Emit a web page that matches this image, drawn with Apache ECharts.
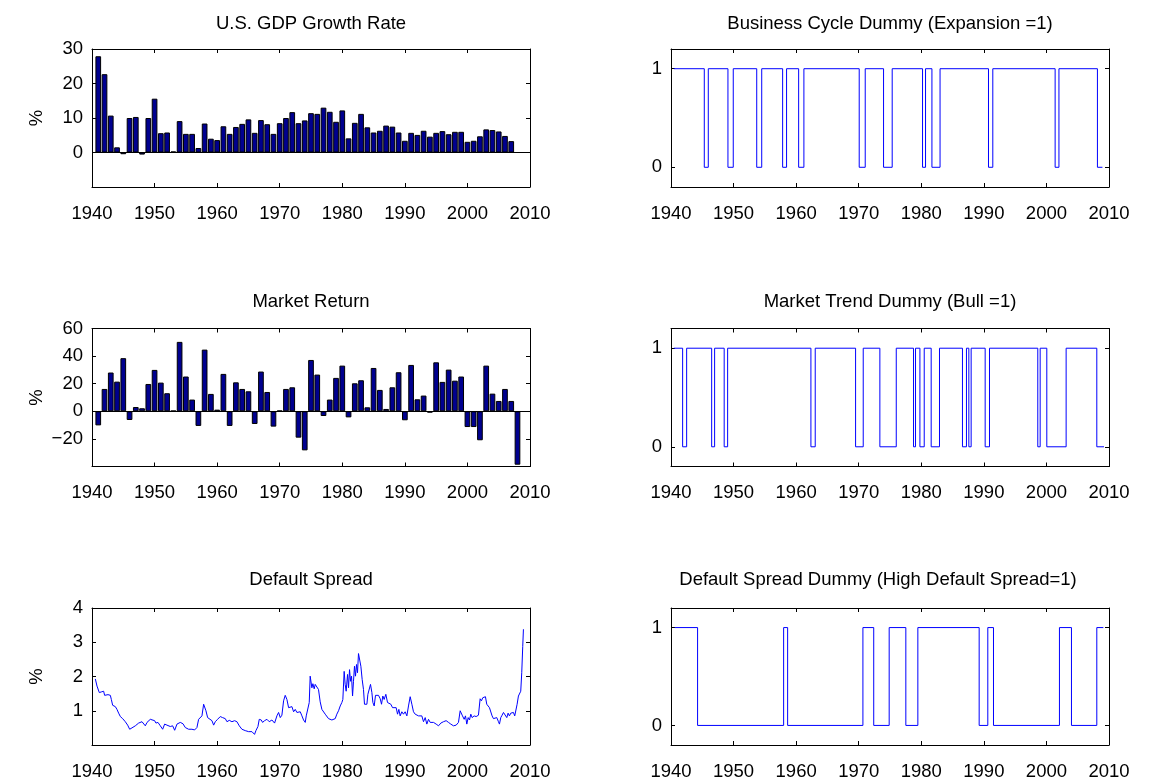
<!DOCTYPE html>
<html><head><meta charset="utf-8">
<script src="https://cdn.jsdelivr.net/npm/echarts@6/dist/echarts.min.js"></script>
<style>html,body{margin:0;padding:0;background:#fff}#c{width:1167px;height:781px}</style>
</head><body><div id="c"></div>
<script>
// ---------- DATA ----------
const gdpYears = [1941,1942,1943,1944,1945,1946,1947,1948,1949,1950,1951,1952,1953,1954,1955,1956,1957,1958,1959,1960,
1961,1962,1963,1964,1965,1966,1967,1968,1969,1970,1971,1972,1973,1974,1975,1976,1977,1978,1979,1980,
1981,1982,1983,1984,1985,1986,1987,1988,1989,1990,1991,1992,1993,1994,1995,1996,1997,1998,1999,2000,
2001,2002,2003,2004,2005,2006,2007];
const gdpValues = [27.9,22.7,10.7,1.5,-0.5,10.0,10.3,-0.6,10.0,15.6,5.6,5.8,0.3,9.1,5.4,5.4,1.3,8.4,4.0,3.6,
7.6,5.4,7.4,8.3,9.6,5.7,9.4,8.2,5.4,8.5,10.0,11.7,8.5,9.3,11.4,11.2,13.0,11.8,8.9,12.2,
4.1,8.6,11.2,7.3,5.8,6.3,7.8,7.5,5.8,3.4,5.7,5.1,6.3,4.6,5.7,6.2,5.3,6.0,6.0,3.1,
3.4,4.7,6.7,6.5,6.1,4.8,3.3];

const mktYears = [1941,1942,1943,1944,1945,1946,1947,1948,1949,1950,1951,1952,1953,1954,1955,1956,1957,1958,1959,1960,
1961,1962,1963,1964,1965,1966,1967,1968,1969,1970,1971,1972,1973,1974,1975,1976,1977,1978,1979,1980,
1981,1982,1983,1984,1985,1986,1987,1988,1989,1990,1991,1992,1993,1994,1995,1996,1997,1998,1999,2000,
2001,2002,2003,2004,2005,2006,2007,2008];
const mktValues = [-10.2,16.2,28.1,21.5,38.5,-6.3,3.1,2.2,19.8,30.0,20.8,13.1,0.4,50.3,25.2,8.5,-10.6,44.7,12.6,1.2,
27.1,-10.6,21.0,16.2,14.5,-9.2,28.8,14.0,-11.1,0.5,16.2,17.4,-19.1,-28.3,37.2,26.6,-3.4,8.5,24.2,33.1,
-4.4,20.3,22.5,2.9,31.4,15.5,1.7,17.4,28.3,-6.5,33.6,8.7,11.4,-1.0,35.5,21.3,30.2,22.2,25.2,-11.4,
-11.4,-21.0,33.1,12.8,7.5,16.2,7.5,-38.7];

const spreadDates = [1940.53,1940.80,1941.17,1941.49,1941.86,1942.02,1942.24,1942.56,1942.93,1943.09,1943.30,1943.73,1943.99,
1944.26,1944.53,1944.90,1945.32,1945.70,1946.02,1946.39,1946.92,1947.45,1947.99,1948.25,1948.52,1948.79,1949.32,1949.58,
1950.01,1950.22,1950.54,1950.92,1951.29,1951.61,1951.98,1952.51,1952.89,1953.21,1953.58,1954.11,1954.54,1954.91,1955.44,
1955.97,1956.40,1956.77,1957.04,1957.31,1957.57,1957.84,1958.00,1958.21,1958.48,1958.74,1959.17,1959.44,1959.70,1960.07,
1960.50,1960.87,1961.30,1961.57,1961.94,1962.36,1962.79,1963.16,1963.54,1963.96,1964.49,1965.03,1965.56,1965.98,1966.20,
1966.52,1966.73,1967.05,1967.26,1967.58,1967.96,1968.33,1968.75,1969.18,1969.55,1969.82,1970.09,1970.35,1970.62,1970.88,
1971.15,1971.42,1971.68,1971.95,1972.22,1972.48,1972.75,1973.01,1973.28,1973.55,1973.81,1974.08,1974.24,1974.50,1974.72,
1974.87,1975.14,1975.30,1975.51,1975.67,1975.94,1976.20,1976.47,1976.74,1977.00,1977.27,1977.54,1977.80,1978.07,1978.34,
1978.60,1978.87,1979.13,1979.40,1979.67,1979.93,1980.09,1980.30,1980.46,1980.62,1980.84,1981.00,1981.16,1981.32,1981.48,
1981.64,1981.79,1981.95,1982.11,1982.27,1982.43,1982.59,1982.75,1982.97,1983.18,1983.39,1983.55,1983.71,1983.93,1984.09,
1984.30,1984.51,1984.73,1984.89,1985.10,1985.31,1985.52,1985.79,1986.06,1986.27,1986.48,1986.69,1986.96,1987.23,1987.49,
1987.76,1988.03,1988.29,1988.61,1988.83,1989.04,1989.25,1989.52,1989.78,1990.05,1990.32,1990.58,1990.85,1991.12,1991.38,
1991.65,1991.91,1992.18,1992.45,1992.71,1992.98,1993.25,1993.51,1993.78,1994.05,1994.31,1994.58,1995.00,1995.38,1995.75,
1996.17,1996.60,1996.97,1997.34,1997.77,1998.20,1998.57,1998.84,1999.00,1999.21,1999.48,1999.69,1999.90,2000.12,2000.33,
2000.54,2000.75,2001.07,2001.39,2001.76,2002.03,2002.24,2002.45,2002.67,2002.88,2003.09,2003.30,2003.52,2003.73,2003.94,
2004.16,2004.42,2004.69,2004.96,2005.12,2005.33,2005.54,2005.76,2006.02,2006.29,2006.50,2006.71,2006.93,2007.14,2007.35,
2007.56,2007.78,2007.94,2008.15,2008.31,2008.52,2008.68,2008.84,2008.95];
const spreadValues = [1.93,1.72,1.53,1.55,1.57,1.45,1.41,1.47,1.45,1.33,1.16,1.12,1.04,
0.93,0.83,0.77,0.68,0.58,0.46,0.50,0.56,0.64,0.68,0.66,0.56,0.66,0.75,0.77,
0.71,0.64,0.66,0.56,0.46,0.61,0.58,0.54,0.56,0.43,0.61,0.66,0.62,0.51,0.46,
0.46,0.44,0.51,0.75,0.73,0.85,1.19,1.24,1.00,0.80,0.82,0.71,0.58,0.68,0.75,
0.83,0.80,0.77,0.68,0.72,0.68,0.71,0.68,0.56,0.46,0.42,0.39,0.39,0.31,0.42,
0.54,0.75,0.73,0.66,0.71,0.75,0.68,0.73,0.64,0.85,0.95,0.80,0.87,1.29,1.45,
1.33,1.09,1.14,1.12,0.97,1.04,0.95,0.90,0.97,0.85,0.73,0.66,0.85,0.80,1.24,
2.01,1.67,1.79,1.64,1.77,1.77,1.62,1.26,1.04,1.00,0.90,0.85,0.77,0.75,0.73,
0.71,0.77,0.90,1.00,1.14,1.24,1.33,2.15,1.77,1.57,2.06,1.67,2.20,1.86,2.01,
1.43,1.86,2.30,2.01,2.35,2.11,2.67,2.64,2.30,1.91,1.62,1.19,1.14,1.19,1.48,
1.43,1.77,1.53,1.24,1.14,1.45,1.41,1.45,1.35,1.19,1.43,1.33,1.48,1.24,1.19,
1.19,1.09,1.14,1.09,0.90,1.04,0.85,0.97,0.90,0.97,0.85,1.14,1.41,1.19,0.97,
0.90,0.93,0.85,0.80,0.85,0.68,0.80,0.61,0.75,0.66,0.64,0.66,0.61,0.56,0.64,
0.68,0.71,0.66,0.61,0.56,0.58,0.66,1.00,1.04,0.85,0.75,0.85,0.61,0.80,0.73,
0.90,0.80,0.85,0.83,0.87,1.35,1.29,1.38,1.33,1.41,1.19,1.22,1.09,1.04,0.85,
0.77,0.75,0.80,0.68,0.61,0.80,0.87,0.95,0.90,0.80,0.93,0.85,0.93,0.90,0.95,
0.85,0.90,1.19,1.43,1.38,1.57,2.11,2.88,3.38];

// step series: value holds from each date until the next one
const cycleDates = [1940.45,1945.32,1945.96,1949.10,1949.95,1953.70,1954.50,1957.84,1958.47,1960.40,1961.24,1970.08,1971.04,
1973.97,1975.35,1980.20,1980.68,1981.70,1983.00,1990.74,1991.43,2001.39,2002.00,2008.15,2008.95];
const cycleValues = [1,0,1,0,1,0,1,0,1,0,1,0,1,0,1,0,1,0,1,0,1,0,1,0,0];

const trendDates = [1940.45,1941.86,1942.50,1946.50,1946.97,1948.50,1949.05,1962.36,1963.05,1969.50,1970.72,1973.38,1976.00,
1978.76,1979.08,1979.78,1980.47,1981.58,1982.91,1986.58,1987.22,1987.60,1987.97,1990.21,1990.90,1998.62,1999.00,2000.06,
2003.15,2008.05,2009.20];
const trendValues = [1,0,1,0,1,0,1,0,1,0,1,0,1,0,1,0,1,0,1,0,1,0,1,0,1,0,1,0,1,0,0];

const dsdDates = [1940.60,1944.25,1958.00,1958.64,1970.67,1972.40,1974.87,1977.53,1979.45,1989.25,1990.63,1991.54,2002.08,
2004.00,2008.05,2009.10];
const dsdValues = [1,0,1,0,1,0,1,0,1,0,1,0,1,0,1,1];

const titles = ['U.S. GDP Growth Rate','Business Cycle Dummy (Expansion =1)','Market Return',
  'Market Trend Dummy (Bull =1)','Default Spread','Default Spread Dummy (High Default Spread=1)'];

// ---------- CHART ----------
const FONT = '"Liberation Sans", Arial, Helvetica, sans-serif';
const FS = 18.5;
const zip = (a,b) => a.map((v,i)=>[v,b[i]]);
const minus = v => (v < 0 ? '\u2212' + Math.abs(v) : String(v));

const gridPos = [
  {left:92, top:49}, {left:671, top:49},
  {left:92, top:328.5}, {left:671, top:328.5},
  {left:92, top:608}, {left:671, top:608}
];
const titlePos = [[311,14],[890,14],[311,292],[890,292],[311,570],[878,570]];

const grid=[], xAxis=[], yAxis=[], title=[], series=[];
const axisLine = {show:true, onZero:false, lineStyle:{color:'#000', width:1}};
const tick = {show:true, inside:true, length:4, lineStyle:{color:'#000', width:1}};
const lbl = {color:'#000', fontFamily:FONT, fontSize:FS};

const ySpecs = [
  {min:-10, max:30, interval:10, fmt: v => v === -10 ? '' : minus(v), name:'%'},
  {min:-0.2, max:1.2, custom:[0,1]},
  {min:-40, max:60, interval:20, fmt: v => v === -40 ? '' : minus(v), name:'%'},
  {min:-0.2, max:1.2, custom:[0,1]},
  {min:0, max:4, interval:1, fmt: v => v === 0 ? '' : String(v), name:'%'},
  {min:-0.2, max:1.2, custom:[0,1]}
];

for (let i=0;i<6;i++){
  grid.push({left:gridPos[i].left, top:gridPos[i].top, width:438, height:138, containLabel:false});
  title.push({text:titles[i], left:titlePos[i][0], top:titlePos[i][1], textAlign:'center', padding:0,
    textStyle:{fontFamily:FONT, fontSize:FS, fontWeight:'normal', color:'#000'}});
  const xb = {type:'value', gridIndex:i, min:1940, max:2010, interval:10, position:'bottom',
    axisLine, axisTick:tick, splitLine:{show:false},
    axisLabel:Object.assign({margin:17, formatter: v => String(v)}, lbl)};
  const xt = {type:'value', gridIndex:i, min:1940, max:2010, interval:10, position:'top',
    axisLine, axisTick:tick, splitLine:{show:false}, axisLabel:{show:false}};
  xAxis.push(xb, xt);
  const s = ySpecs[i];
  const yl = {type:'value', gridIndex:i, min:s.min, max:s.max, position:'left',
    axisLine, splitLine:{show:false}, axisTick:Object.assign({}, tick),
    axisLabel:Object.assign({margin:9}, lbl)};
  const yr = {type:'value', gridIndex:i, min:s.min, max:s.max, position:'right',
    axisLine, splitLine:{show:false}, axisTick:Object.assign({}, tick), axisLabel:{show:false}};
  if (s.custom){
    yl.axisTick.customValues = s.custom; yl.axisLabel.customValues = s.custom;
    yr.axisTick.customValues = s.custom; yr.axisLabel = {show:false, customValues:s.custom};
  } else {
    yl.interval = s.interval; yr.interval = s.interval; yl.axisLabel.formatter = s.fmt;
  }
  if (s.name){
    yl.name = s.name; yl.nameLocation='middle'; yl.nameRotate=90; yl.nameGap=46;
    yl.nameTextStyle = {fontFamily:FONT, fontSize:FS, color:'#000'};
  }
  yAxis.push(yl, yr);
}

const barStyle = {color:'#00008f', borderColor:'#000', borderWidth:1};
const zeroLine = {silent:true, symbol:['none','none'], label:{show:false},
  lineStyle:{color:'#000', width:1, type:'solid'}, data:[{yAxis:0}]};
const lineStyle = {color:'#0000ff', width:1};

series.push({type:'bar', xAxisIndex:0, yAxisIndex:0, data:zip(gdpYears,gdpValues), barWidth:5.7,
  itemStyle:barStyle, markLine:zeroLine, animation:false});
series.push({type:'line', xAxisIndex:2, yAxisIndex:2, data:zip(cycleDates,cycleValues), step:'end',
  showSymbol:false, lineStyle, itemStyle:{color:'#0000ff'}, animation:false});
series.push({type:'bar', xAxisIndex:4, yAxisIndex:4, data:zip(mktYears,mktValues), barWidth:5.7,
  itemStyle:barStyle, markLine:zeroLine, animation:false});
series.push({type:'line', xAxisIndex:6, yAxisIndex:6, data:zip(trendDates,trendValues), step:'end',
  showSymbol:false, lineStyle, itemStyle:{color:'#0000ff'}, animation:false});
series.push({type:'line', xAxisIndex:8, yAxisIndex:8, data:zip(spreadDates,spreadValues),
  showSymbol:false, lineStyle, itemStyle:{color:'#0000ff'}, animation:false});
series.push({type:'line', xAxisIndex:10, yAxisIndex:10, data:zip(dsdDates,dsdValues), step:'end',
  showSymbol:false, lineStyle, itemStyle:{color:'#0000ff'}, animation:false});

const chart = echarts.init(document.getElementById('c'), null, {renderer:'canvas'});
chart.setOption({backgroundColor:'#fff', animation:false, title, grid, xAxis, yAxis, series});
</script></body></html>
